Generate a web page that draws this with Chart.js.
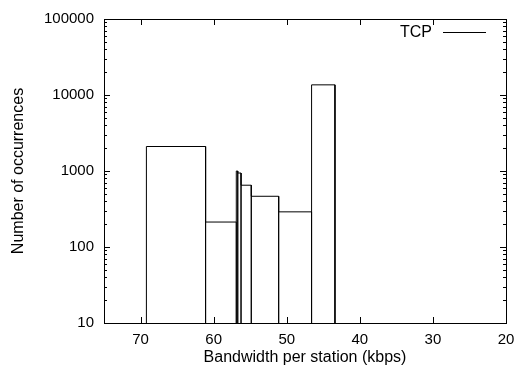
<!DOCTYPE html>
<html>
<head>
<meta charset="utf-8">
<script src="https://cdn.jsdelivr.net/npm/chart.js@4.4.0/dist/chart.umd.min.js"></script>
<style>
  html, body { margin: 0; padding: 0; background: #fff; }
  #chart { display: block; }
</style>
</head>
<body>
<canvas id="chart" width="517" height="372"></canvas>
<script>
// Histogram bins, bandwidth in kbps (high edge -> low edge) and counts
const binFrom = [69.2, 61.1, 56.9, 56.7, 56.25, 54.85, 51.1, 46.6];
const binTo = [61.1, 56.9, 56.7, 56.25, 54.85, 51.1, 46.6, 43.4];
const counts = [2100, 213, 1000, 940, 650, 465, 290, 13600];

const xTicks = [70, 60, 50, 40, 30, 20];
const yTicks = [10, 100, 1000, 10000, 100000];
const seriesName = 'TCP';

const FAMILY = '"Liberation Sans", Arial, sans-serif';
const TICK_FONT = { family: FAMILY, size: 15 };
const TEXT_FONT = { family: FAMILY, size: 16 };

// outline of each box: up the left edge, across the top, down the right edge
function boxOutline(yBase) {
    const pts = [];
    for (let i = 0; i < counts.length; i++) {
        pts.push({ x: binFrom[i], y: yBase });
        pts.push({ x: binFrom[i], y: counts[i] });
        pts.push({ x: binTo[i], y: counts[i] });
        pts.push({ x: binTo[i], y: yBase });
    }
    return pts;
}

// gnuplot style frame with inward ticks on all four sides + key in top right
const framePlugin = {
    id: 'frame',
    afterDatasetsDraw(chart) {
        const ctx = chart.ctx;
        const area = chart.chartArea;
        const xs = chart.scales.x;
        const ys = chart.scales.y;
        const major = 6, minor = 3;

        ctx.save();
        ctx.strokeStyle = '#000';
        ctx.lineWidth = 1;
        ctx.beginPath();

        xTicks.forEach(v => {
            const px = Math.round(xs.getPixelForValue(v)) + 0.5;
            ctx.moveTo(px, area.bottom);
            ctx.lineTo(px, area.bottom - major);
            ctx.moveTo(px, area.top);
            ctx.lineTo(px, area.top + major);
        });

        yTicks.forEach((v, i) => {
            const py = Math.round(ys.getPixelForValue(v)) + 0.5;
            ctx.moveTo(area.left, py);
            ctx.lineTo(area.left + major, py);
            ctx.moveTo(area.right, py);
            ctx.lineTo(area.right - major, py);
            if (i < yTicks.length - 1) {
                for (let k = 2; k <= 9; k++) {
                    const my = Math.round(ys.getPixelForValue(v * k)) + 0.5;
                    ctx.moveTo(area.left, my);
                    ctx.lineTo(area.left + minor, my);
                    ctx.moveTo(area.right, my);
                    ctx.lineTo(area.right - minor, my);
                }
            }
        });
        ctx.stroke();

        ctx.strokeRect(Math.round(area.left) + 0.5, Math.round(area.top) + 0.5,
            Math.round(area.right - area.left), Math.round(area.bottom - area.top));

        // key
        const ky = Math.round(area.top + 13) + 0.5;
        const lx1 = area.right - 63, lx2 = area.right - 20;
        ctx.beginPath();
        ctx.moveTo(lx1, ky);
        ctx.lineTo(lx2, ky);
        ctx.stroke();
        ctx.fillStyle = '#000';
        ctx.font = TEXT_FONT.size + 'px ' + FAMILY;
        ctx.textAlign = 'right';
        ctx.textBaseline = 'middle';
        ctx.fillText(seriesName, lx1 - 11, ky);
        ctx.restore();
    }
};

const ctx = document.getElementById('chart').getContext('2d');
const chart = new Chart(ctx, {
    type: 'line',
    data: {
        datasets: [{
            label: seriesName,
            data: boxOutline(yTicks[0]),
            borderColor: '#000',
            borderWidth: 1,
            pointRadius: 0,
            tension: 0,
            fill: false
        }]
    },
    options: {
        responsive: false,
        animation: false,
        devicePixelRatio: 1,
        layout: { padding: { top: 19, right: 11, left: 0, bottom: 0 } },
        plugins: {
            legend: { display: false },
            tooltip: { enabled: false }
        },
        scales: {
            x: {
                type: 'linear',
                min: 20,
                max: 75,
                reverse: true,
                grid: { display: false, drawTicks: false },
                border: { display: false },
                afterBuildTicks: s => { s.ticks = xTicks.map(v => ({ value: v })); },
                afterFit: s => {
                    s.height = 49;
                    s.paddingLeft = 0;
                    s.paddingRight = 0;
                },
                ticks: {
                    color: '#000',
                    font: TICK_FONT,
                    padding: 8,
                    maxRotation: 0,
                    callback: v => String(v)
                },
                title: {
                    display: true,
                    text: 'Bandwidth per station (kbps)',
                    color: '#000',
                    font: TEXT_FONT,
                    padding: { top: 0, bottom: 5 }
                }
            },
            y: {
                type: 'logarithmic',
                min: 10,
                max: 100000,
                grid: { display: false, drawTicks: false },
                border: { display: false },
                afterBuildTicks: s => { s.ticks = yTicks.map(v => ({ value: v })); },
                afterFit: s => {
                    s.width = 104;
                    s.paddingTop = 0;
                    s.paddingBottom = 0;
                },
                ticks: {
                    color: '#000',
                    font: TICK_FONT,
                    padding: 10,
                    callback: v => String(v)
                },
                title: {
                    display: true,
                    text: 'Number of occurrences',
                    color: '#000',
                    font: TEXT_FONT,
                    padding: { top: 9, bottom: 0 }
                }
            }
        }
    },
    plugins: [framePlugin]
});
</script>
</body>
</html>
